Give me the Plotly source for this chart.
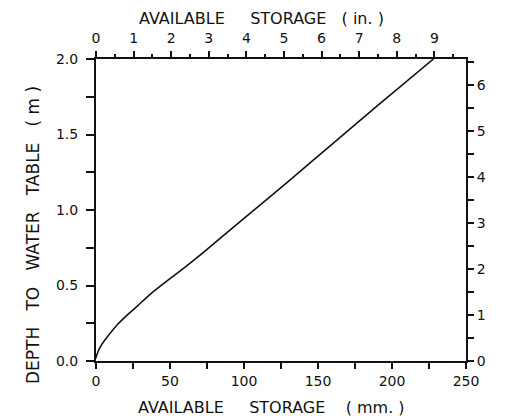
import plotly.graph_objects as go

# Data (storage in mm, depth to water table in m)
storage_mm = [0, 0.5, 3, 7.7, 14.4, 21.2, 28, 37, 48, 60, 72, 100, 130, 160, 190, 228]
depth_m = [0.02, 0.04, 0.095, 0.16, 0.24, 0.305, 0.365, 0.445, 0.53, 0.62, 0.715, 0.945, 1.19, 1.44, 1.69, 2.0]

bottom_ticks = [0, 50, 100, 150, 200, 250]
top_ticks = [0, 1, 2, 3, 4, 5, 6, 7, 8, 9]
left_ticks = [0.0, 0.5, 1.0, 1.5, 2.0]
right_ticks = [0, 1, 2, 3, 4, 5, 6]

MM_PER_IN = 25.4
M_PER_FT = 0.3048

FONT = "DejaVu Sans"
fsz = 14
ink = "#111111"

fig = go.Figure()
fig.add_trace(go.Scatter(x=storage_mm, y=depth_m, mode="lines",
                         line=dict(color=ink, width=1.6, shape="spline", smoothing=0.5),
                         showlegend=False, hoverinfo="skip", xaxis="x", yaxis="y"))
# invisible companion trace on the secondary (in / ft) axes
fig.add_trace(go.Scatter(x=[v / MM_PER_IN for v in storage_mm],
                         y=[v / M_PER_FT for v in depth_m], mode="lines",
                         line=dict(color="rgba(0,0,0,0)", width=0), showlegend=False,
                         hoverinfo="skip", xaxis="x2", yaxis="y2"))

axis_common = dict(showgrid=False, zeroline=False, showline=True, linecolor=ink,
                   linewidth=2, ticks="outside", tickcolor=ink, tickwidth=1.5,
                   tickfont=dict(family=FONT, size=fsz, color=ink))

fig.update_layout(
    width=497, height=408,
    margin=dict(l=88, r=39, t=51, b=55),
    paper_bgcolor="white", plot_bgcolor="white",
    font=dict(family=FONT, size=fsz, color=ink),
    xaxis=dict(range=[0, 250], tickvals=bottom_ticks, ticklen=6,
               minor=dict(dtick=25, tick0=0, ticks="outside", ticklen=6, tickcolor=ink, tickwidth=1.5),
               **axis_common),
    xaxis2=dict(range=[0, 250 / MM_PER_IN], tickvals=top_ticks, ticklen=6, ticklabelstandoff=2,
                overlaying="x", side="top", anchor="y",
                minor=dict(dtick=0.5, tick0=0, ticks="outside", ticklen=3, tickcolor=ink, tickwidth=1.5),
                **axis_common),
    yaxis=dict(range=[0, 2], tickvals=left_ticks, tickformat=".1f", ticklen=8, ticklabelstandoff=5,
               minor=dict(dtick=0.25, tick0=0, ticks="outside", ticklen=8, tickcolor=ink, tickwidth=1.5),
               **axis_common),
    yaxis2=dict(range=[0, 2 / M_PER_FT], tickvals=right_ticks, ticklen=6,
                overlaying="y", side="right", anchor="x",
                minor=dict(dtick=0.5, tick0=0, ticks="outside", ticklen=6, tickcolor=ink, tickwidth=1.5),
                **axis_common),
)

nb = "\u00a0"
tfont = dict(family=FONT, size=16, color=ink)
lfont = dict(family=FONT, size=17, color=ink)
fig.add_annotation(text=f"AVAILABLE{nb*5}STORAGE{nb*3}({nb}in.{nb})", xref="paper", yref="paper",
                   x=(261 - 96) / 370, y=1 + (59 - 18) / 302, showarrow=False,
                   font=tfont, xanchor="center", yanchor="middle")
fig.add_annotation(text=f"AVAILABLE{nb*5}STORAGE{nb*4}({nb}mm.{nb})", xref="paper", yref="paper",
                   x=(271 - 96) / 370, y=-(407 - 361) / 302, showarrow=False,
                   font=tfont, xanchor="center", yanchor="middle")
fig.add_annotation(text=f"DEPTH{nb*3}TO{nb*3}WATER{nb*3}TABLE{nb*3}({nb}m{nb})", xref="paper", yref="paper",
                   x=-(96 - 33) / 370, y=(361 - 235) / 302, showarrow=False, textangle=-90,
                   font=lfont, xanchor="center", yanchor="middle")

fig.write_html("out.html")
